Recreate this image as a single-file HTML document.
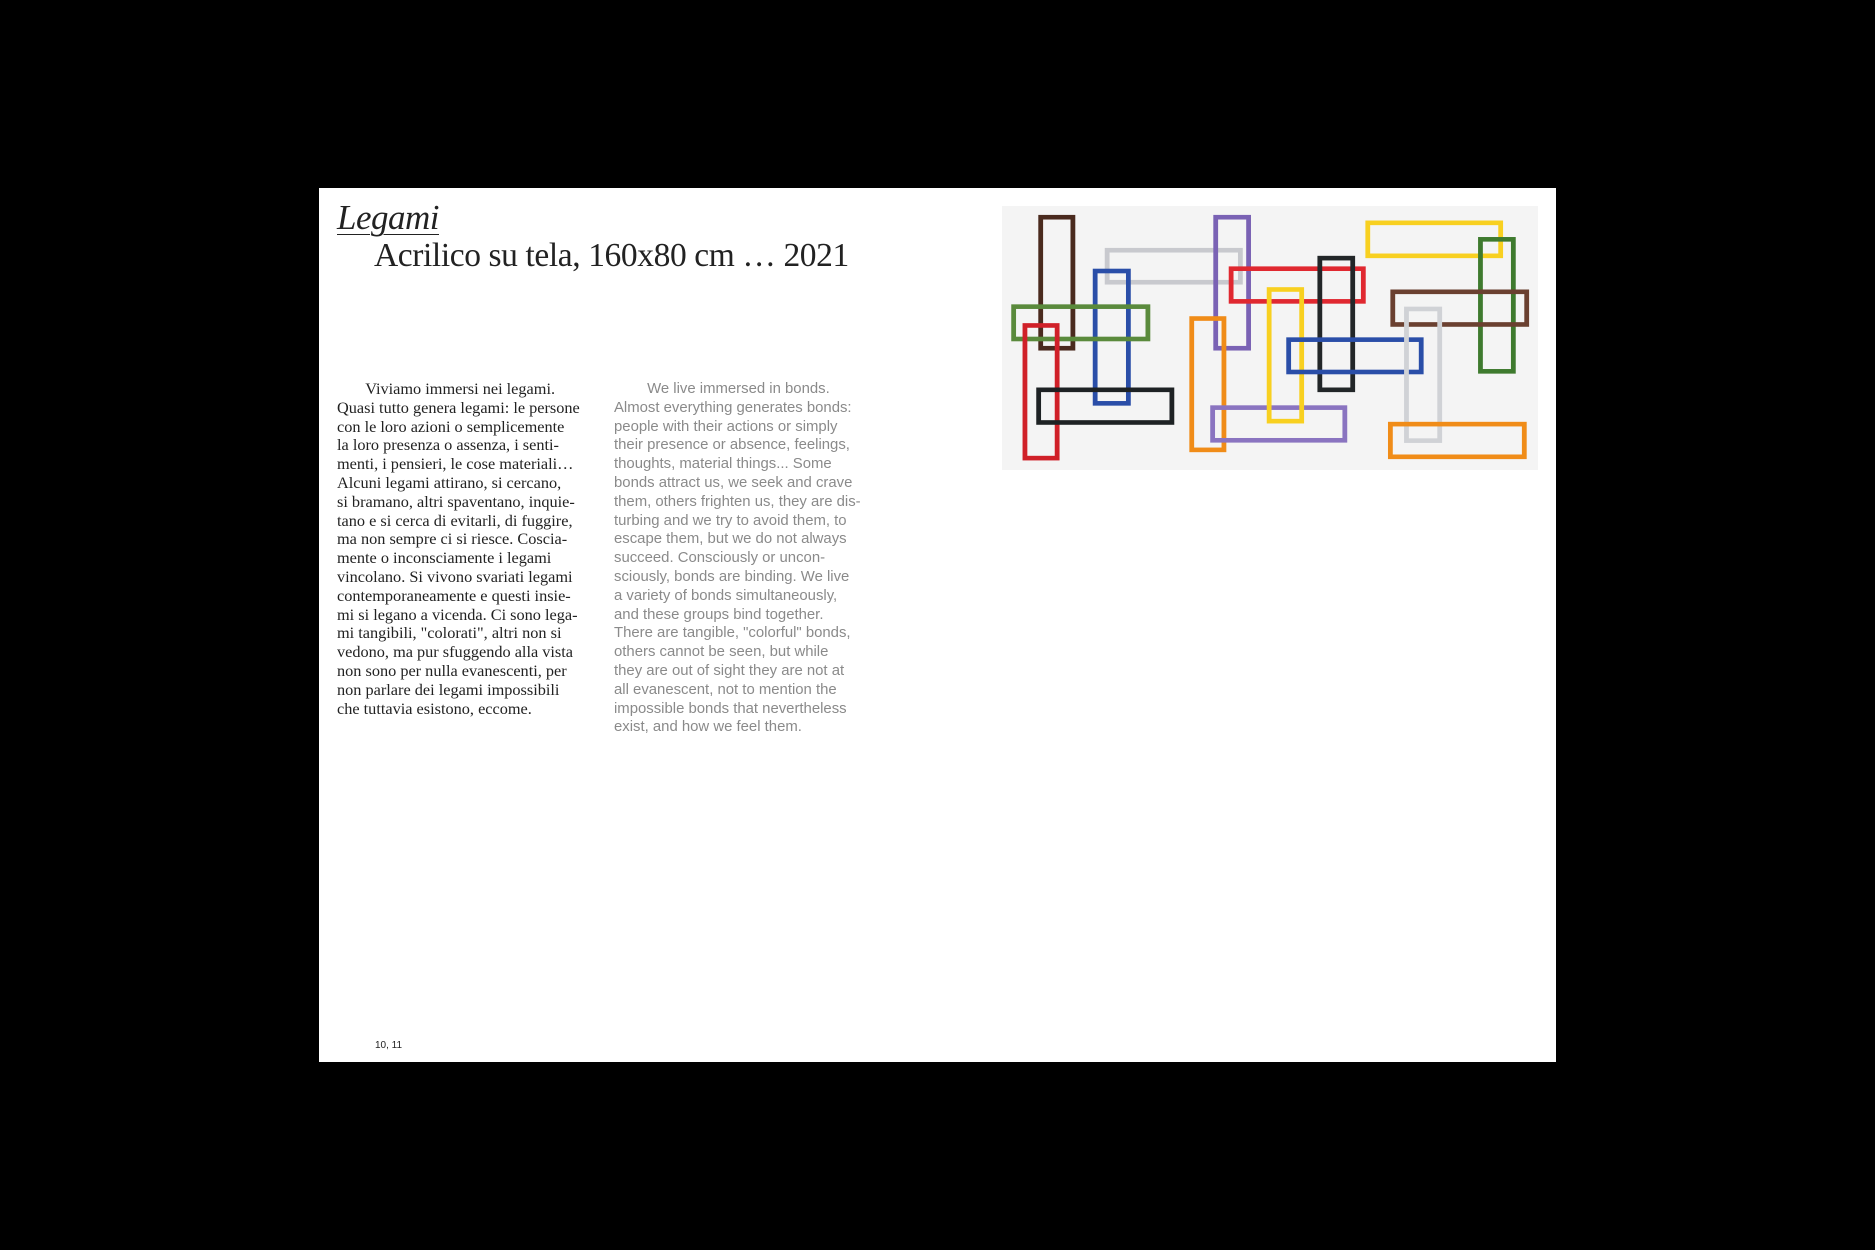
<!DOCTYPE html>
<html><head><meta charset="utf-8"><style>
body{margin:0;width:1875px;height:1250px;background:#000;position:relative;overflow:hidden}
#page{position:absolute;left:319px;top:188px;width:1237px;height:874px;background:#fff}
.abs{position:absolute;margin:0}
#title{left:18px;top:10px;font:italic 35px "Liberation Serif",serif;color:#222;text-decoration:underline;text-decoration-thickness:1px;text-underline-offset:5px;letter-spacing:-0.5px}
#sub{left:55px;top:49px;font:33.5px "Liberation Serif",serif;color:#222;letter-spacing:-0.4px;white-space:nowrap}
#it{left:18px;top:192px;font:16.3px/18.8px "Liberation Serif",serif;color:#222;white-space:pre}
#en{left:295px;top:192px;font:14.9px/18.8px "Liberation Sans",sans-serif;color:#8a8a8a;white-space:pre}
#pn{left:56px;top:852px;font:10px "Liberation Sans",sans-serif;color:#222}
#paint{position:absolute;left:1002px;top:206px;width:536px;height:264px}
</style></head><body>
<div id="page">
<h1 id="title" class="abs">Legami</h1>
<div id="sub" class="abs">Acrilico su tela, 160x80 cm … 2021</div>
<div id="it" class="abs">       Viviamo immersi nei legami.
Quasi tutto genera legami: le persone
con le loro azioni o semplicemente
la loro presenza o assenza, i senti-
menti, i pensieri, le cose materiali…
Alcuni legami attirano, si cercano,
si bramano, altri spaventano, inquie-
tano e si cerca di evitarli, di fuggire,
ma non sempre ci si riesce. Coscia-
mente o inconsciamente i legami
vincolano. Si vivono svariati legami
contemporaneamente e questi insie-
mi si legano a vicenda. Ci sono lega-
mi tangibili, "colorati", altri non si
vedono, ma pur sfuggendo alla vista
non sono per nulla evanescenti, per
non parlare dei legami impossibili
che tuttavia esistono, eccome.</div>
<div id="en" class="abs">        We live immersed in bonds.
Almost everything generates bonds:
people with their actions or simply
their presence or absence, feelings,
thoughts, material things... Some
bonds attract us, we seek and crave
them, others frighten us, they are dis-
turbing and we try to avoid them, to
escape them, but we do not always
succeed. Consciously or uncon-
sciously, bonds are binding. We live
a variety of bonds simultaneously,
and these groups bind together.
There are tangible, "colorful" bonds,
others cannot be seen, but while
they are out of sight they are not at
all evanescent, not to mention the
impossible bonds that nevertheless
exist, and how we feel them.</div>
<div id="pn" class="abs">10, 11</div>
</div>
<svg id="paint" viewBox="0 0 1565 800" preserveAspectRatio="none">
<rect x="0" y="0" width="1565" height="800" fill="#f4f4f4"/>
<g id="rects" fill="none" stroke-width="14"></g>
</svg>
<script>
const rs=[
["#4a2a1e",106,27,214,438],["#c8c9ce",300,127,703,238],["#2a4ea8",265,190,376,605],
["#7a62b4",617,27,727,438],["#5a8a3c",27,298,433,410],["#d02028",60,355,168,771],
["#1e2224",100,550,503,663],["#f08c18",547,334,655,746],["#8a74c0",608,604,1008,717],
["#e02830",662,183,1062,296],["#f8d020",773,246,882,659],["#222628",921,151,1031,564],
["#2a4ea8",830,398,1231,510],["#f8d020",1061,44,1463,158],["#3e7a2e",1390,94,1500,508],
["#6a4030",1134,253,1539,366],["#d0d2d6",1174,305,1285,718],["#f08c18",1127,654,1532,767]];
const g=document.getElementById('rects');
rs.forEach(r=>{const e=document.createElementNS('http://www.w3.org/2000/svg','rect');
e.setAttribute('x',r[1]+7);e.setAttribute('y',r[2]+7);e.setAttribute('width',r[3]-r[1]-14);e.setAttribute('height',r[4]-r[2]-14);e.setAttribute('stroke',r[0]);


g.appendChild(e);});
</script>
</body></html>
